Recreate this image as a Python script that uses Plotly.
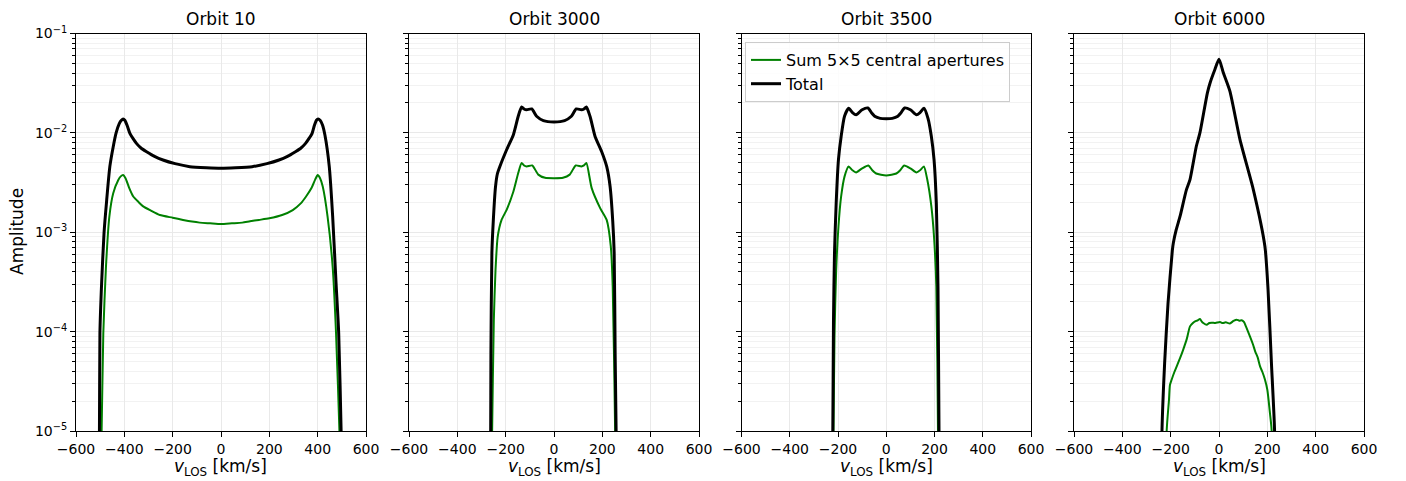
import plotly.graph_objects as go

# ---------------- data ----------------
titles = ["Orbit 10", "Orbit 3000", "Orbit 3500", "Orbit 6000"]

# Orbit 10
v10_tot = [-520, -503, -501, -494, -484, -473, -460, -446, -434, -421, -412, -405, -398, -388,
           -377, -363, -349, -330, -308, -275, -240, -190, -129, -60, 0, 60, 129, 190, 240, 275,
           308, 330, 349, 363, 377, 386, 395, 402, 410, 420, 430, 448, 462, 476, 487, 497, 520]
a10_tot = [1e-8, 1.0e-5, 9.7e-5, 3.07e-4, 9.8e-4, 2.11e-3, 4.57e-3, 7.26e-3, 1.0e-2, 1.24e-2,
           1.34e-2, 1.38e-2, 1.34e-2, 1.18e-2, 9.9e-3, 8.7e-3, 7.8e-3, 7.0e-3, 6.46e-3, 5.8e-3,
           5.33e-3, 4.9e-3, 4.57e-3, 4.45e-3, 4.4e-3, 4.45e-3, 4.57e-3, 4.9e-3, 5.33e-3, 5.8e-3,
           6.46e-3, 7.0e-3, 7.8e-3, 8.7e-3, 9.9e-3, 1.18e-2, 1.34e-2, 1.38e-2, 1.34e-2, 1.2e-2,
           9.5e-3, 4.57e-3, 1.45e-3, 3.1e-4, 9.7e-5, 1.0e-5, 1e-8]
v10_cen = [-520, -494, -487, -476, -462, -446, -425, -415, -405, -395, -380, -363, -340, -322,
           -290, -253, -200, -157, -120, -88, -45, 0, 45, 88, 120, 157, 200, 253, 297, 330, 352,
           375, 390, 400, 410, 421, 441, 462, 476, 490, 520]
a10_cen = [1e-8, 1.0e-5, 9.7e-5, 4.5e-4, 1.44e-3, 2.47e-3, 3.36e-3, 3.65e-3, 3.77e-3, 3.5e-3,
           2.8e-3, 2.29e-3, 2.0e-3, 1.82e-3, 1.65e-3, 1.49e-3, 1.40e-3, 1.33e-3, 1.28e-3, 1.25e-3,
           1.23e-3, 1.21e-3, 1.23e-3, 1.25e-3, 1.29e-3, 1.33e-3, 1.38e-3, 1.49e-3, 1.67e-3,
           1.95e-3, 2.29e-3, 2.8e-3, 3.4e-3, 3.77e-3, 3.5e-3, 2.88e-3, 1.44e-3, 4.5e-4, 9.7e-5,
           1.0e-5, 1e-8]

# Orbit 3000
v3000_tot = [-275, -262, -261, -257, -251, -242, -234, -224, -196, -168, -148, -134, -124,
             -113, -92, -72, -44, 0, 44, 72, 92, 113, 124, 134, 149, 170, 197, 218, 232, 243,
             249, 253, 257, 270]
a3000_tot = [1e-8, 1.0e-5, 6.0e-5, 6.2e-4, 1.33e-3, 2.88e-3, 3.9e-3, 4.59e-3, 6.76e-3, 9.6e-3,
             1.47e-2, 1.82e-2, 1.74e-2, 1.71e-2, 1.74e-2, 1.47e-2, 1.33e-2, 1.29e-2, 1.33e-2,
             1.47e-2, 1.74e-2, 1.71e-2, 1.74e-2, 1.82e-2, 1.47e-2, 9.2e-3, 6.5e-3, 4.59e-3,
             2.9e-3, 1.3e-3, 6.2e-4, 6.0e-5, 1.0e-5, 1e-8]
v3000_cen = [-270, -256, -249, -242, -233, -217, -196, -168, -148, -134, -124, -113, -90,
             -65, -37, 0, 37, 65, 90, 113, 124, 134, 156, 191, 218, 235, 243, 253, 265]
a3000_cen = [1e-8, 1.0e-5, 1.3e-4, 4.17e-4, 9.0e-4, 1.33e-3, 1.68e-3, 2.57e-3, 3.94e-3, 4.97e-3,
             4.7e-3, 4.59e-3, 4.7e-3, 3.8e-3, 3.53e-3, 3.5e-3, 3.53e-3, 3.8e-3, 4.7e-3, 4.59e-3,
             4.7e-3, 4.97e-3, 2.78e-3, 1.75e-3, 1.33e-3, 7.2e-4, 2.83e-4, 1.0e-5, 1e-8]

# Orbit 3500
v3500_tot = [-235, -221.5, -218.7, -214.5, -207.6, -198, -187, -173, -156, -140, -125, -100,
             -76, -60, -48, -25, 0, 25, 48, 60, 76, 100, 125, 140, 156, 173, 187, 198, 207.6,
             214.5, 218.7, 232]
a3500_tot = [1e-8, 1.0e-5, 1.3e-4, 6.2e-4, 1.95e-3, 5.4e-3, 9.2e-3, 1.47e-2, 1.77e-2, 1.6e-2,
             1.52e-2, 1.71e-2, 1.78e-2, 1.58e-2, 1.47e-2, 1.40e-2, 1.39e-2, 1.40e-2, 1.47e-2,
             1.58e-2, 1.78e-2, 1.71e-2, 1.52e-2, 1.6e-2, 1.77e-2, 1.40e-2, 9.2e-3, 5.4e-3,
             1.95e-3, 2.8e-4, 1.0e-5, 1e-8]
v3500_cen = [-232, -218.7, -214.5, -207.6, -198, -187, -173, -156, -140, -125, -100, -74,
             -58, -42, 0, 42, 58, 74, 100, 125, 140, 156, 170, 187, 198, 207.6, 214.5, 228]
a3500_cen = [1e-8, 1.0e-5, 8.9e-5, 4.17e-4, 1.15e-3, 2.29e-3, 3.63e-3, 4.59e-3, 4.2e-3, 4.0e-3,
             4.4e-3, 4.7e-3, 4.2e-3, 3.9e-3, 3.73e-3, 3.9e-3, 4.2e-3, 4.7e-3, 4.4e-3, 4.0e-3,
             4.2e-3, 4.59e-3, 3.39e-3, 1.82e-3, 9.0e-4, 2.83e-4, 1.0e-5, 1e-8]

# Orbit 6000
v6000_tot = [-250, -236, -225, -211, -193, -189, -177, -161, -135, -120, -94, -79, -48, -37,
             -17, 0, 18, 45, 87, 142, 190, 203, 217, 230, 245]
a6000_tot = [1e-8, 1.0e-5, 4.8e-5, 1.92e-4, 6.6e-4, 7.8e-4, 1.06e-3, 1.45e-3, 2.67e-3, 3.39e-3,
             7.3e-3, 1.0e-2, 2.53e-2, 3.18e-2, 4.34e-2, 5.5e-2, 4.02e-2, 2.63e-2, 8.5e-3,
             2.69e-3, 7.2e-4, 2.63e-4, 4.8e-5, 1.0e-5, 1e-8]
v6000_cen = [-230, -216.6, -207, -203, -196, -185, -175, -160, -148, -133, -120, -108, -99,
             -88, -79, -72, -65, -51, -40, -30, -15, 4, 15, 28, 45, 60, 73, 84, 94, 103, 110,
             128, 140, 150, 160, 170, 180, 190, 200, 211, 218, 230]
a6000_cen = [1e-8, 1.0e-5, 2.06e-5, 2.9e-5, 3.28e-5, 3.9e-5, 4.47e-5, 5.5e-5, 6.6e-5, 8.5e-5,
             1.13e-4, 1.22e-4, 1.27e-4, 1.3e-4, 1.34e-4, 1.27e-4, 1.22e-4, 1.17e-4, 1.22e-4,
             1.23e-4, 1.22e-4, 1.25e-4, 1.22e-4, 1.24e-4, 1.21e-4, 1.28e-4, 1.32e-4, 1.29e-4,
             1.3e-4, 1.25e-4, 1.15e-4, 8.95e-5, 7.5e-5, 6.3e-5, 5.5e-5, 4.47e-5, 3.9e-5, 3.3e-5,
             2.6e-5, 1.5e-5, 1.0e-5, 1e-8]

series_total = [(v10_tot, a10_tot), (v3000_tot, a3000_tot), (v3500_tot, a3500_tot), (v6000_tot, a6000_tot)]
series_central = [(v10_cen, a10_cen), (v3000_cen, a3000_cen), (v3500_cen, a3500_cen), (v6000_cen, a6000_cen)]

x_ticks = [-600, -400, -200, 0, 200, 400, 600]
x_ticklabels = ["−600", "−400", "−200", "0", "200", "400", "600"]
y_ticks = [1e-5, 1e-4, 1e-3, 1e-2, 1e-1]
y_ticklabels = ["10<sup>−5</sup>", "10<sup>−4</sup>", "10<sup>−3</sup>", "10<sup>−2</sup>", "10<sup>−1</sup>"]
y_minor = [m * 10.0 ** e for e in range(-5, -1) for m in range(2, 10)]

# ---------------- layout geometry ----------------
W, H = 1406, 481
x_doms = [(76, 366), (409, 699), (741.5, 1031), (1074, 1364)]
y_dom = [1 - 431 / H, 1 - 33.5 / H]
FONT = "DejaVu Sans"

fig = go.Figure()
for i in range(4):
    sfx = "" if i == 0 else str(i + 1)
    vc, ac = series_central[i]
    vt, at = series_total[i]
    fig.add_trace(go.Scatter(x=vc, y=ac, mode="lines",
                             line=dict(color="#008000", width=2, shape="spline", smoothing=0.6),
                             name="Sum 5×5 central apertures", showlegend=(i == 2),
                             xaxis="x" + sfx, yaxis="y" + sfx))
    fig.add_trace(go.Scatter(x=vt, y=at, mode="lines",
                             line=dict(color="black", width=3, shape="spline", smoothing=0.6),
                             name="Total", showlegend=(i == 2),
                             xaxis="x" + sfx, yaxis="y" + sfx))

layout = dict(width=W, height=H, margin=dict(l=0, r=0, t=0, b=0, autoexpand=False),
              template="none",
              paper_bgcolor="white", plot_bgcolor="white",
              font=dict(family=FONT, color="black", size=14))
annotations = []
for i, (x0, x1) in enumerate(x_doms):
    sfx = "" if i == 0 else str(i + 1)
    layout["xaxis" + sfx] = dict(
        domain=[x0 / W, x1 / W], anchor="y" + sfx, range=[-600, 600], automargin=False,
        tickvals=x_ticks, ticktext=x_ticklabels, ticks="outside", ticklen=5, tickwidth=1,
        tickcolor="black", showline=True, linecolor="black", linewidth=1, mirror=True,
        showgrid=True, gridcolor="#e9e9e9", gridwidth=1, zeroline=False,
        tickfont=dict(family=FONT, size=14, color="black"))
    yax = dict(
        domain=y_dom, anchor="x" + sfx, type="log", range=[-5, -1], automargin=False,
        tickvals=y_ticks, showticklabels=(i == 0), ticks="outside", ticklen=5, tickwidth=1,
        tickcolor="black", showline=True, linecolor="black", linewidth=1, mirror=True,
        showgrid=True, gridcolor="#e9e9e9", gridwidth=1, zeroline=False,
        tickfont=dict(family=FONT, size=14, color="black"),
        minor=dict(tickvals=y_minor, ticks="outside", ticklen=3, tickwidth=1,
                   tickcolor="black", showgrid=True, gridcolor="#f2f2f2", gridwidth=1))
    if i == 0:
        yax["ticktext"] = y_ticklabels
    layout["yaxis" + sfx] = yax
    cx = (x0 + x1) / 2 / W
    annotations.append(dict(text=titles[i], x=cx, y=1 - 19 / H, xref="paper", yref="paper",
                            xanchor="center", yanchor="middle", showarrow=False,
                            font=dict(family=FONT, size=17, color="black")))
    annotations.append(dict(text="<i>v</i><sub>LOS</sub> [km/s]", x=cx, y=1 - 467 / H,
                            xref="paper", yref="paper", xanchor="center", yanchor="middle",
                            showarrow=False, font=dict(family=FONT, size=17, color="black")))
annotations.append(dict(text="Amplitude", x=17 / W, y=1 - 232 / H, xref="paper", yref="paper",
                        xanchor="center", yanchor="middle", textangle=-90, showarrow=False,
                        font=dict(family=FONT, size=17, color="black")))
layout["annotations"] = annotations
layout["legend"] = dict(x=745 / W, y=1 - 42 / H, xanchor="left", yanchor="top",
                        bgcolor="rgba(255,255,255,0.85)", bordercolor="#cccccc", borderwidth=1,
                        font=dict(family=FONT, size=16, color="black"),
                        tracegroupgap=0, itemwidth=30)
fig.update_layout(**layout)
fig.write_html("out.html")
